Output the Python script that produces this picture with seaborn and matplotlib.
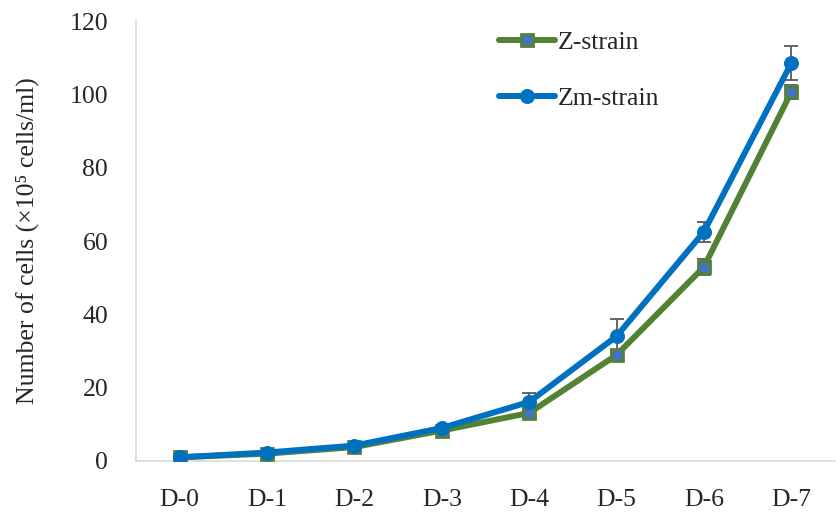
import numpy as np
import pandas as pd
import matplotlib
matplotlib.use("Agg")
import matplotlib.pyplot as plt
import seaborn as sns

days = ["D-0", "D-1", "D-2", "D-3", "D-4", "D-5", "D-6", "D-7"]
z_strain = [1.0, 2.0, 3.8, 8.3, 13.1, 28.9, 52.9, 100.6]
z_err = [0.3, 0.3, 0.4, 0.5, 0.8, 1.0, 2.2, 2.0]
zm_strain = [1.0, 2.3, 4.2, 9.0, 16.1, 34.0, 62.5, 108.5]
zm_err = [0.3, 0.3, 0.4, 0.6, 2.4, 4.7, 2.8, 4.6]

df = pd.DataFrame({
    "day": list(range(len(days))) * 2,
    "cells": z_strain + zm_strain,
    "strain": ["Z-strain"] * len(days) + ["Zm-strain"] * len(days),
})

sns.set_style("white")
plt.rcParams["font.family"] = ["Liberation Serif", "DejaVu Serif"]

fig = plt.figure(figsize=(8.36, 5.13), dpi=100)
ax = fig.add_axes([0.1627, 0.1014, 0.836, 0.8576])

green = "#548235"
blue = "#0070C0"
x = np.arange(len(days))

ax.errorbar(x, z_strain, yerr=z_err, fmt="none", ecolor="#595959",
            elinewidth=1.3, capsize=5, capthick=1.3, zorder=1)
ax.errorbar(x, zm_strain, yerr=zm_err, fmt="none", ecolor="#595959",
            elinewidth=1.3, capsize=5, capthick=1.3, zorder=1)

sns.lineplot(data=df[df.strain == "Z-strain"], x="day", y="cells", ax=ax,
             color=green, lw=4.3, marker="s", markersize=8,
             markerfacecolor="#4472C4", markeredgecolor=green,
             markeredgewidth=2, label="Z-strain", zorder=3)
sns.lineplot(data=df[df.strain == "Zm-strain"], x="day", y="cells", ax=ax,
             color=blue, lw=4.3, marker="o", markersize=10,
             markerfacecolor=blue, markeredgecolor=blue,
             label="Zm-strain", zorder=4)

ax.set_xlim(-0.5, 7.5)
ax.set_ylim(0, 120)
ax.set_yticks(range(0, 121, 20))
ax.set_xticks(x)
ax.set_xticklabels(days)
ax.tick_params(axis="both", labelsize=18.5, length=0)
ax.tick_params(axis="x", pad=20)
ax.tick_params(axis="y", pad=20)
ax.set_xlabel("")
ax.set_ylabel("Number of cells (×10⁵ cells/ml)", fontsize=18.5, labelpad=22)

sns.despine(ax=ax)
for s in ["left", "bottom"]:
    ax.spines[s].set_color("#D9D9D9")
    ax.spines[s].set_linewidth(1.2)

ax.legend(loc="upper left", bbox_to_anchor=(0.486, 1.029), frameon=False,
          fontsize=18.5, labelspacing=1.26, handlelength=2.2, handletextpad=0.1)

fig.savefig("out.png", dpi=100)
